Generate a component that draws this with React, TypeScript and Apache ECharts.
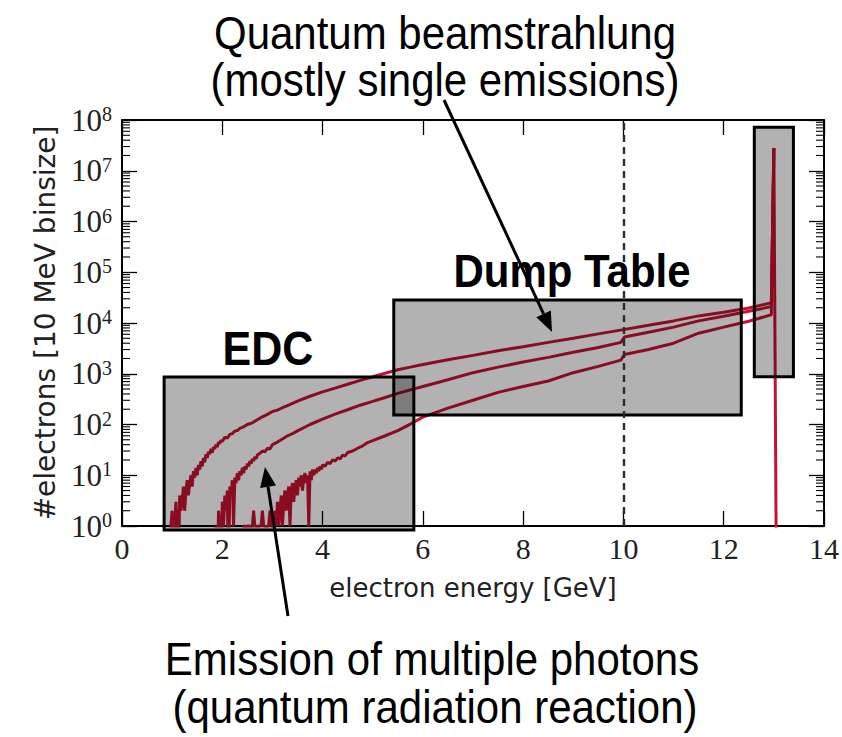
import React, { useEffect, useRef } from "react";
import * as echarts from "echarts";

// electron energy [GeV] and counts per 10 MeV bin
const topX = [0.95, 0.975, 1.0, 1.025, 1.05, 1.075, 1.1, 1.125, 1.15, 1.175, 1.2, 1.225, 1.25, 1.275, 1.3, 1.325, 1.35, 1.375, 1.4, 1.425, 1.45, 1.475, 1.5, 1.525, 1.55, 1.575, 1.6, 1.625, 1.65, 1.675, 1.7, 1.725, 1.75, 1.775, 1.8, 1.825, 1.85, 1.875, 1.9, 1.925, 1.95, 1.975, 2.0, 2.05, 2.1, 2.15, 2.2, 2.25, 2.3, 2.35, 2.4, 2.45, 2.5, 2.6, 2.7, 2.8, 2.9, 3.0, 3.1, 3.2, 3.3, 3.4, 3.5, 3.75, 4.0, 4.25, 4.5, 4.75, 5.0, 5.25, 5.5, 5.75, 6.0, 6.5, 7.0, 7.5, 8.0, 8.5, 9.0, 9.5, 10.0, 10.5, 11.0, 11.5, 12.0, 12.5, 12.95, 13.0, 13.05];
const topY = [0.1, 1, 2, 0.1, 1, 3, 1, 0.1, 4, 2, 3, 6, 2, 5, 8, 4, 7, 10, 6, 12, 9, 14, 10, 16, 13, 19, 15, 22, 18, 26, 22, 29, 26, 33, 28, 36, 33, 40, 36, 45, 42, 49, 46, 56, 54, 64, 66, 74, 76, 84, 88, 93, 100, 108, 124, 142, 158, 180, 192, 214, 236, 262, 290, 360, 440, 520, 620, 740, 870, 1020, 1200, 1350, 1520, 1880, 2300, 2850, 3400, 4150, 5000, 6100, 7400, 9000, 11000, 13800, 16300, 19800, 25000, 28000000, 0.1];

const midX = [1.85, 1.875, 1.9, 1.925, 1.95, 1.975, 2.0, 2.025, 2.05, 2.075, 2.1, 2.125, 2.15, 2.175, 2.2, 2.225, 2.25, 2.275, 2.3, 2.325, 2.35, 2.375, 2.4, 2.425, 2.45, 2.475, 2.5, 2.525, 2.55, 2.575, 2.6, 2.625, 2.65, 2.675, 2.7, 2.75, 2.8, 2.85, 2.9, 2.95, 3.0, 3.1, 3.2, 3.3, 3.4, 3.5, 3.75, 4.0, 4.25, 4.5, 4.75, 5.0, 5.25, 5.5, 5.75, 6.0, 6.5, 7.0, 7.5, 8.0, 8.5, 9.0, 9.5, 9.95, 10.02, 10.5, 11.0, 11.5, 12.0, 12.5, 12.95, 13.0];
const midY = [0.1, 1, 0.1, 2, 1, 0.1, 3, 1, 4, 2, 5, 0.1, 6, 4, 8, 1, 9, 7, 11, 8, 12, 10, 14, 11, 15, 13, 17, 15, 19, 17, 21, 19, 23, 21, 25, 27, 30, 29, 34, 33, 40, 45, 52, 60, 66, 75, 100, 128, 160, 195, 240, 285, 340, 410, 480, 560, 760, 1050, 1350, 1700, 2100, 2650, 3300, 4150, 5300, 6600, 8300, 11000, 13600, 17000, 21000, 28000000];

const lowX = [2.4, 2.425, 2.45, 2.475, 2.5, 2.525, 2.55, 2.575, 2.6, 2.625, 2.65, 2.675, 2.7, 2.725, 2.75, 2.775, 2.8, 2.825, 2.85, 2.875, 2.9, 2.925, 2.95, 2.975, 3.0, 3.025, 3.05, 3.075, 3.1, 3.125, 3.15, 3.175, 3.2, 3.225, 3.25, 3.275, 3.3, 3.325, 3.35, 3.375, 3.4, 3.425, 3.45, 3.475, 3.5, 3.525, 3.55, 3.575, 3.6, 3.625, 3.65, 3.675, 3.7, 3.725, 3.75, 3.775, 3.8, 3.825, 3.85, 3.875, 3.9, 3.925, 3.95, 3.975, 4.0, 4.05, 4.1, 4.15, 4.2, 4.25, 4.3, 4.35, 4.4, 4.45, 4.5, 4.6, 4.7, 4.8, 4.9, 5.0, 5.25, 5.5, 5.75, 6.0, 6.5, 7.0, 7.5, 8.0, 8.5, 9.0, 9.5, 9.95, 10.02, 10.5, 11.0, 11.5, 12.0, 12.5, 12.95, 13.0];
const lowY = [0.1, 1, 1, 0.1, 1, 1, 1, 0.1, 1, 2, 1, 1, 0.1, 1, 1, 1, 2, 1, 1, 0.1, 1, 1, 2, 1, 1, 0.1, 2, 1, 3, 1, 2, 4, 1, 3, 5, 2, 4, 6, 1, 5, 7, 3, 6, 8, 4, 9, 6, 10, 5, 9, 11, 7, 10, 1, 12, 8, 13, 10, 13, 11, 14, 12, 15, 13, 16, 15, 18, 17, 20, 19, 22, 21, 25, 24, 28, 30, 34, 38, 44, 48, 60, 76, 102, 140, 210, 300, 430, 560, 720, 1050, 1400, 1860, 2400, 3000, 4000, 6300, 8300, 10800, 14500, 28000000];

// annotated regions: [xFrom, xTo, yFrom, yTo]
const boxEDC = [0.84, 5.82, 0.83, 863];
const boxDump = [5.42, 12.35, 154, 28400];
const boxPeak = [12.61, 13.39, 875, 72000000];

const xTicks = { min: 0, max: 14, interval: 2 };
const yRange = { min: 1, max: 1e8 };
const cutEnergy = 10;

const minorTickValues: number[] = [];
for (let k = 0; k < 8; k++) for (let m = 2; m <= 9; m++) minorTickValues.push(m * Math.pow(10, k));

const zip = (xs: number[], ys: number[]) => xs.map((x, i) => [x, ys[i]]);

const RED = "#c41230";
const SANS = "'Liberation Sans', Arial, sans-serif";
const AXSANS = "'DejaVu Sans', sans-serif";
const SERIF = "'Liberation Serif', serif";

function arrow(tail: number[], tip: number[], headLen: number, headHalf: number) {
  const dx = tip[0] - tail[0];
  const dy = tip[1] - tail[1];
  const L = Math.sqrt(dx * dx + dy * dy);
  const ux = dx / L, uy = dy / L;
  const bx = tip[0] - ux * headLen, by = tip[1] - uy * headLen;
  return [
    { type: "line", shape: { x1: tail[0], y1: tail[1], x2: bx, y2: by }, style: { stroke: "#000", lineWidth: 3 }, z: 20 },
    {
      type: "polygon",
      shape: { points: [tip, [bx - uy * headHalf, by + ux * headHalf], [bx + uy * headHalf, by - ux * headHalf]] },
      style: { fill: "#000" },
      z: 20,
    },
  ];
}

function label(text: string, x: number, y: number, font: string) {
  return {
    type: "text",
    x,
    y,
    scaleY: 1.1,
    style: { text, font, fill: "#000", align: "center", verticalAlign: "middle" },
    z: 20,
  };
}

export default function App() {
  const ref = useRef<HTMLDivElement>(null);
  useEffect(() => {
    if (!ref.current) return;
    const chart = echarts.init(ref.current, undefined, { renderer: "svg" });
    const lineSeries = (data: number[][], extra: any = {}) => ({
      type: "line",
      data,
      showSymbol: false,
      symbol: "none",
      lineStyle: { color: RED, width: 3 },
      itemStyle: { color: RED },
      z: 2,
      clip: true,
      silent: true,
      ...extra,
    });
    const boxes = [boxEDC, boxDump, boxPeak];
    chart.setOption({
      animation: false,
      backgroundColor: "#fff",
      grid: { left: 122, top: 120, width: 702, height: 406, containLabel: false },
      xAxis: [
        {
          type: "value",
          position: "bottom",
          min: xTicks.min,
          max: xTicks.max,
          interval: xTicks.interval,
          name: "electron energy [GeV]",
          nameLocation: "middle",
          nameGap: 49,
          nameTextStyle: { fontFamily: AXSANS, fontSize: 26, color: "#222" },
          axisLine: { show: true, onZero: false, lineStyle: { color: "#000", width: 2 } },
          axisTick: { show: true, inside: true, length: 15, lineStyle: { color: "#000", width: 1.3 } },
          axisLabel: { fontFamily: SERIF, fontSize: 30, color: "#222", margin: 7 },
          splitLine: { show: false },
        },
        {
          type: "value",
          position: "top",
          min: xTicks.min,
          max: xTicks.max,
          interval: xTicks.interval,
          axisLine: { show: true, onZero: false, lineStyle: { color: "#000", width: 2 } },
          axisTick: { show: true, inside: true, length: 15, lineStyle: { color: "#000", width: 1.3 } },
          axisLabel: { show: false },
          splitLine: { show: false },
        },
      ],
      yAxis: [
        {
          type: "log",
          logBase: 10,
          position: "left",
          min: yRange.min,
          max: yRange.max,
          splitNumber: 8,
          name: "#electrons [10 MeV binsize]",
          nameLocation: "middle",
          nameGap: 63,
          nameRotate: 90,
          nameTextStyle: { fontFamily: AXSANS, fontSize: 28, color: "#222" },
          axisLine: { show: true, onZero: false, lineStyle: { color: "#000", width: 2 } },
          axisTick: { show: true, inside: true, length: 15, lineStyle: { color: "#000", width: 1.3 } },
          axisLabel: {
            margin: 10,
            formatter: (v: number) => `{b|10}{s|${Math.round(Math.log10(v))}}`,
            rich: {
              b: { fontFamily: SERIF, fontSize: 31, color: "#222", lineHeight: 32 },
              s: { fontFamily: SERIF, fontSize: 20, color: "#222", verticalAlign: "top", lineHeight: 19 },
            },
          },
          splitLine: { show: false },
          minorTick: { show: false },
        },
        {
          type: "log",
          logBase: 10,
          position: "right",
          min: yRange.min,
          max: yRange.max,
          splitNumber: 8,
          axisLine: { show: true, onZero: false, lineStyle: { color: "#000", width: 2 } },
          axisTick: { show: true, inside: true, length: 15, lineStyle: { color: "#000", width: 1.3 } },
          axisLabel: { show: false },
          splitLine: { show: false },
        },
      ],
      series: [
        {
          type: "custom",
          name: "minorTicks",
          z: 1,
          silent: true,
          data: minorTickValues.map((v) => [xTicks.min, v]),
          encode: { x: 0, y: 1 },
          renderItem: (params: any, api: any) => {
            const v = api.value(1);
            const l = api.coord([xTicks.min, v]);
            const r = api.coord([xTicks.max, v]);
            return {
              type: "group",
              children: [
                { type: "line", shape: { x1: l[0], y1: l[1], x2: l[0] + 8, y2: l[1] }, style: { stroke: "#000", lineWidth: 1.1 } },
                { type: "line", shape: { x1: r[0] - 8, y1: r[1], x2: r[0], y2: r[1] }, style: { stroke: "#000", lineWidth: 1.1 } },
              ],
            };
          },
        },
        lineSeries(zip(topX, topY), {
          markLine: {
            silent: true,
            symbol: ["none", "none"],
            label: { show: false },
            lineStyle: { color: "#2b2b2b", width: 2.4, type: [7, 5] },
            data: [{ xAxis: cutEnergy }],
          },
        }),
        lineSeries(zip(midX, midY)),
        lineSeries(zip(lowX, lowY)),
        {
          type: "custom",
          name: "regions",
          z: 3,
          silent: true,
          data: boxes,
          encode: { x: [0, 1], y: [2, 3] },
          renderItem: (params: any, api: any) => {
            const p0 = api.coord([api.value(0), api.value(3)]);
            const p1 = api.coord([api.value(1), api.value(2)]);
            return {
              type: "rect",
              shape: { x: p0[0], y: p0[1], width: p1[0] - p0[0], height: p1[1] - p0[1] },
              style: { fill: "rgba(0,0,0,0.3)", stroke: "#000", lineWidth: 3 },
            };
          },
        },
      ],
      graphic: [
        label("Quantum beamstrahlung", 445, 33, `42px ${SANS}`),
        label("(mostly single emissions)", 445, 80, `42px ${SANS}`),
        label("Emission of multiple photons", 432, 659, `42px ${SANS}`),
        label("(quantum radiation reaction)", 435, 707, `42px ${SANS}`),
        label("EDC", 268, 349, `bold 43px ${SANS}`),
        label("Dump Table", 572, 271, `bold 42px ${SANS}`),
        ...arrow([444, 100], [552, 332], 20, 8),
        ...arrow([288, 616], [265, 467], 20, 8),
      ],
    });
    return () => chart.dispose();
  }, []);
  return <div ref={ref} style={{ position: "fixed", left: 0, top: 0, width: 842, height: 737, background: "#fff" }} />;
}
